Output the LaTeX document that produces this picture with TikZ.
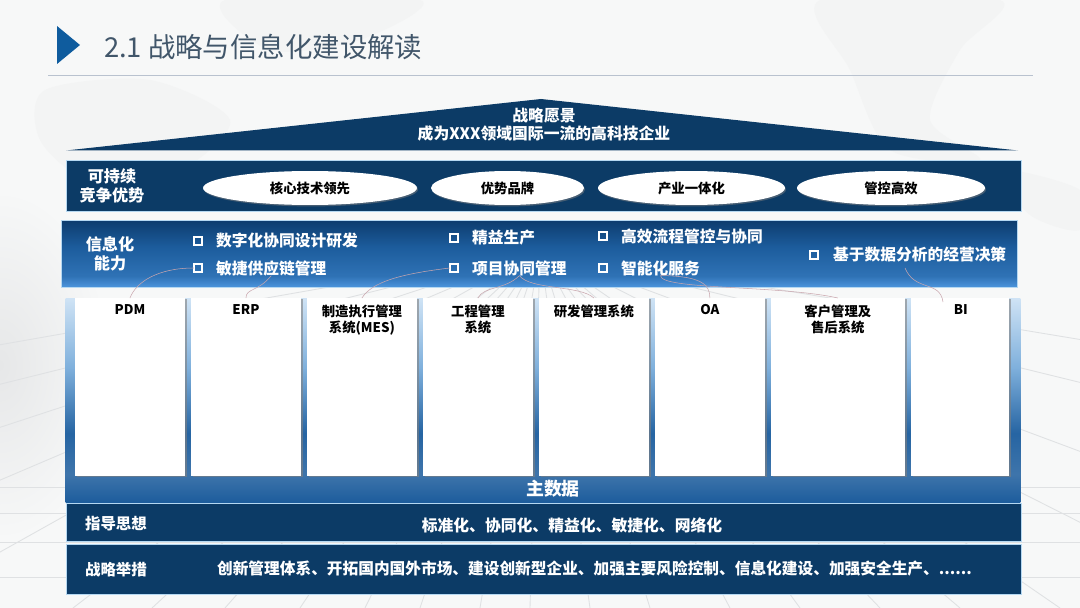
\documentclass[tikz,border=0pt]{standalone}
\usepackage{fontspec}
\setmainfont{Noto Sans CJK SC}
\usepackage{xcolor}
\usepackage{tikz}
\usetikzlibrary{positioning,shapes.geometric,shadows}
\definecolor{Paper}{HTML}{F7F8F8}
\definecolor{PaperDark}{HTML}{E6E7E8}
\definecolor{MapGrey}{HTML}{F3F4F4}
\definecolor{FloorLine}{HTML}{DFE1E3}
\definecolor{Navy}{HTML}{0C3B66}
\definecolor{EdgeLight}{HTML}{B5D8F2}
\definecolor{TitleInk}{HTML}{41566A}
\definecolor{Arrowhead}{HTML}{0F5C9E}
\definecolor{RuleGrey}{HTML}{B9C2CF}
\definecolor{LinkRed}{HTML}{C9A6AE}
\definecolor{BandTop}{HTML}{0D3C6E}
\definecolor{BandMid}{HTML}{1C5C9C}
\definecolor{BandLow}{HTML}{4C94DC}
\definecolor{BackPale}{HTML}{CFE3F5}
\definecolor{BackSky}{HTML}{7FB0DC}
\pgfdeclareverticalshading{bandfade}{100bp}{color(0bp)=(BandLow); color(25bp)=(BandLow); color(33bp)=(BandMid!60!BandLow); color(55bp)=(BandMid); color(75bp)=(BandTop); color(100bp)=(BandTop)}
\pgfdeclareverticalshading{backfade}{100bp}{color(0bp)=(BandMid); color(25bp)=(BandMid); color(32bp)=(BandMid!85!white); color(42bp)=(BandMid!90!BackSky); color(58bp)=(BackSky); color(75bp)=(BackPale); color(100bp)=(BackPale)}
\tikzset{
  every node/.style={inner sep=0pt, outer sep=0pt, text=white, align=center},
  boldtext/.style 2 args={font=\fontsize{#1}{#2}\selectfont\bfseries},
  navyband/.style={fill=Navy, draw=EdgeLight, line width=0.3pt, minimum width=19.1cm},
  ovalbox/.style={ellipse, fill=white, minimum height=0.68cm, text=black, boldtext={7.6pt}{9pt},
    drop shadow={shadow xshift=0.6pt, shadow yshift=-0.8pt, opacity=0.5}},
  sysbox/.style={fill=white, minimum height=3.56cm,
    drop shadow={shadow xshift=1.2pt, shadow yshift=-0.8pt, opacity=0.6}},
  syslabel/.style={text=black, boldtext={7.6pt}{9.6pt}, anchor=north},
  itembullet/.style={draw=white, line width=0.9pt, minimum size=0.17cm},
  itemtext/.style={boldtext={8.95pt}{10.5pt}, text=white},
  linkline/.style={draw=LinkRed, line width=0.3pt},
}
\begin{document}
\begin{tikzpicture}[x=0.02cm, y=-0.02cm, node distance=0.12cm]
  \useasboundingbox (0,0) rectangle (1080,608);
  % backdrop
  \fill[Paper] (0,0) rectangle (1080,608);
  \fill[MapGrey] plot[smooth cycle] coordinates {(45,90) (150,80) (230,120) (180,170) (90,180) (40,140)};
  \fill[MapGrey] plot[smooth cycle] coordinates {(225,0) (420,0) (360,40) (270,50)};
  \fill[MapGrey] plot[smooth cycle] coordinates {(820,0) (1000,0) (960,50) (930,120) (980,160) (890,150) (850,70)};
  \fill[MapGrey] plot[smooth cycle] coordinates {(1000,170) (1080,190) (1080,230) (1030,215)};
  \begin{scope}
    \clip (0,0) rectangle (1080,608);
    \shade[inner color=PaperDark, outer color=Paper] (-110,190) rectangle (110,540);
  \end{scope}
  \foreach \x in {-1500,-900,-550,-300,-100,73,152,225,300,365,420,480,530,590,650,730,800,880,960,1060,1250,1500,2000,2700}
    \draw[FloorLine, line width=0.5pt] (\x,608) -- (540,250);
  \foreach \y in {487,513,542,577}
    \draw[FloorLine, line width=0.5pt] (0,\y) -- (1080,\y);

  % title
  \fill[Arrowhead] (57,26) -- (80,45) -- (57,64) -- cycle;
  \node[anchor=west, text=TitleInk, font=\fontsize{15.6pt}{18pt}\selectfont] (title) at (104,47) {2.1 战略与信息化建设解读};
  \draw[RuleGrey, line width=0.5pt] (48,75) -- (1033,75);

  % roof
  \fill[Navy] (66,150.5) -- (541,99) -- (1018,150.5) -- cycle;
  \node[boldtext={9pt}{10.2pt}] (vision) at (544,125) {战略愿景\\成为XXX领域国际一流的高科技企业};

  % advantage band
  \node[navyband, minimum height=1.02cm] (advband) at (543.5,185.5) {};
  \node[boldtext={9.2pt}{10.6pt}] (advlabel) at (112,186) {可持续\\竞争优势};
  \node[ovalbox, minimum width=4.28cm] (ovalcore) at (310,188) {核心技术领先};
  \node[ovalbox, minimum width=3.06cm] (ovalbrand) at (507.5,188) {优势品牌};
  \node[ovalbox, minimum width=3.74cm] (ovalchain) at (691.5,188) {产业一体化};
  \node[ovalbox, minimum width=3.76cm] (ovalctrl) at (891,188) {管控高效};

  % capability band
  \node[shading=bandfade, draw=EdgeLight, line width=0.3pt, minimum width=19.12cm, minimum height=1.34cm] (capband) at (539,253.5) {};
  \node[boldtext={9.2pt}{10.8pt}] (caplabel) at (110,254) {信息化\\能力};
  \foreach \n/\x/\y in {design/198/241, supply/198/268, lean/454/238, project/454/268,
      flow/603/236, service/603/268, decide/814/255}
    \node[itembullet] (b\n) at (\x,\y) {};
  \node[itemtext, right=0.28cm of bdesign] (design) {数字化协同设计研发};
  \node[itemtext, right=0.28cm of bsupply] (supply) {敏捷供应链管理};
  \node[itemtext, right=0.28cm of blean] (lean) {精益生产};
  \node[itemtext, right=0.28cm of bproject] (project) {项目协同管理};
  \node[itemtext, right=0.28cm of bflow] (flow) {高效流程管控与协同};
  \node[itemtext, right=0.28cm of bservice] (service) {智能化服务};
  \node[itemtext, right=0.3cm of bdecide] (decide) {基于数据分析的经营决策};

  % master data backing and system columns
  \node[shading=backfade, minimum width=19.1cm, minimum height=4.1cm] (master) at (543,400.5) {};
  \node[sysbox, minimum width=2.2cm, anchor=north west] (pdm) at (75,298) {};
  \node[sysbox, minimum width=2.2cm, right=of pdm] (erp) {};
  \node[sysbox, minimum width=2.2cm, right=of erp] (mes) {};
  \node[sysbox, minimum width=2.2cm, right=of mes] (eng) {};
  \node[sysbox, minimum width=2.2cm, right=of eng] (rnd) {};
  \node[sysbox, minimum width=2.2cm, right=of rnd] (oa) {};
  \node[sysbox, minimum width=2.68cm, right=of oa] (crm) {};
  \node[sysbox, minimum width=1.96cm, right=of crm] (bi) {};
  \foreach \n/\t in {pdm/PDM, erp/ERP, mes/制造执行管理\\系统(MES), eng/工程管理\\系统,
      rnd/研发管理系统, oa/OA, crm/客户管理及\\售后系统}
    \node[syslabel, below=0.13cm of \n.north] (\n label) {\t};
  \node[syslabel, at={(bi.north)}, yshift=-0.13cm, xshift=0.02cm] (bi label) {BI};
  \node[boldtext={10.2pt}{12pt}] (masterlabel) at (553,489) {主数据};

  % links between capabilities and systems
  \coordinate (decidefoot) at (905,268);
  \coordinate (bifoot) at (943,302);
  \draw[linkline] (pdm.north) .. controls (136,282) and (158,268) .. (bsupply.west);
  \draw[linkline] (erp.north) .. controls (246,288) and (258,292) .. (supply.south);
  \draw[linkline] (mes.north) .. controls (372,282) and (400,274) .. (bproject.west);
  \draw[linkline] (eng.north) .. controls (484,286) and (505,290) .. (project.south);
  \draw[linkline] (project.south) .. controls (530,290) and (580,285) .. (rnd.north);
  \draw[linkline] (service.south) .. controls (702,276) and (710,285) .. (oa.north);
  \draw[linkline] (service.south) .. controls (660,290) and (780,285) .. (crm.north);
  \draw[linkline] (decidefoot) .. controls (915,292) and (940,280) .. (bifoot);

  % guidance and measures
  \node[navyband, minimum height=0.76cm] (guideband) at (543.5,522.5) {};
  \node[navyband, minimum height=1cm] (measureband) at (543.5,569.5) {};
  \node[boldtext={8.8pt}{10pt}] (guidelabel) at (116,524) {指导思想};
  \node[boldtext={9pt}{10pt}] (guidetext) at (572,525.5) {标准化、协同化、精益化、敏捷化、网络化};
  \node[boldtext={8.8pt}{10pt}] (measurelabel) at (116,569.5) {战略举措};
  \node[boldtext={8.93pt}{10pt}] (measuretext) at (594.5,568.5) {创新管理体系、开拓国内国外市场、建设创新型企业、加强主要风险控制、信息化建设、加强安全生产、......};
\end{tikzpicture}
\end{document}
